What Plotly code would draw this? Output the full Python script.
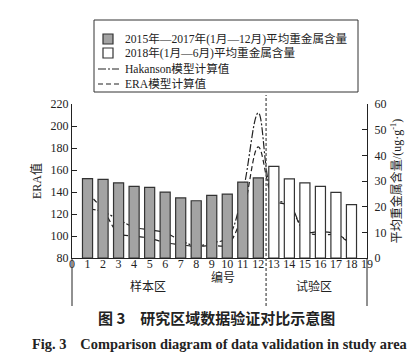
import plotly.graph_objects as go

# ---- data ----
sample_ids = [1, 2, 3, 4, 5, 6, 7, 8, 9, 10, 11, 12]
sample_metal = [30.9, 30.6, 29.3, 27.9, 27.5, 25.7, 23.4, 22.3, 24.4, 24.9, 29.6, 31.2]
test_ids = [13, 14, 15, 16, 17, 18]
test_metal = [35.7, 30.8, 29.3, 27.9, 25.6, 20.8]
model_ids = [1, 2, 3, 4, 5, 6, 7, 8, 9, 10, 11, 12, 13, 14, 15, 16, 17, 18]
hakanson_vals = [125, 122, 115, 108, 105.5, 103, 96, 91, 94, 98, 140, 212, 134, 129, 104, 104, 102, 93]
era_vals = [139, 124, 102.5, 100, 98, 94, 92, 90.6, 91.5, 92, 121, 181, 133, 127, 104, 101, 101, 92.7]
x_ticks = list(range(0, 20))
left_ticks = [80, 100, 120, 140, 160, 180, 200, 220]
right_ticks = [0, 10, 20, 30, 40, 50, 60]
legend_names = ["2015年—2017年(1月—12月)平均重金属含量", "2018年(1月—6月)平均重金属含量",
                "Hakanson模型计算值", "ERA模型计算值"]

SERIF = "Liberation Serif, Times New Roman, Noto Sans CJK SC, serif"
CJK = "Liberation Serif, Noto Sans CJK SC, serif"
INK = "#222222"
BAR_FILL = ["#a3a3a3", "#ffffff"]
DASH_HAK = "8px,2px,2px,2px"
DASH_ERA = "5px,3px"

fig = go.Figure()
fig.add_trace(go.Bar(x=sample_ids, y=sample_metal, yaxis="y2", width=0.65,
                     marker=dict(color=BAR_FILL[0], line=dict(color="#333333", width=1.2)),
                     name=legend_names[0], showlegend=False))
fig.add_trace(go.Bar(x=test_ids, y=test_metal, yaxis="y2", width=0.65,
                     marker=dict(color=BAR_FILL[1], line=dict(color="#333333", width=1.2)),
                     name=legend_names[1], showlegend=False))
fig.add_trace(go.Scatter(x=model_ids, y=hakanson_vals, mode="lines",
                         line=dict(color=INK, width=1.2, dash=DASH_HAK, shape="spline", smoothing=1.0),
                         name=legend_names[2], showlegend=False))
fig.add_trace(go.Scatter(x=model_ids, y=era_vals, mode="lines",
                         line=dict(color=INK, width=1.2, dash=DASH_ERA, shape="spline", smoothing=1.0),
                         name=legend_names[3], showlegend=False))

pl, pr, pt, pb = 64, 359, 96, 250
W, H = 417, 361
ph = pb - pt
pw = pr - pl
def py(pix):
    return (pb - pix) / ph
def px(pix):
    return (pix - pl) / pw

fig.update_layout(
    width=W, height=H,
    margin=dict(l=pl, r=W - pr, t=pt, b=H - pb, pad=0),
    paper_bgcolor="white", plot_bgcolor="white",
    font=dict(family=CJK, size=12, color=INK),
    showlegend=False,
    barmode="overlay",
    xaxis=dict(range=[0, 19], tickvals=x_ticks, ticktext=[str(v) for v in x_ticks],
               showgrid=False, zeroline=False, showline=True, linecolor=INK, linewidth=1,
               ticks="", ticklabelstandoff=-5, tickfont=dict(family=SERIF, size=12, color=INK)),
    yaxis=dict(range=[80, 220], tickvals=left_ticks, showgrid=False, zeroline=False,
               showline=True, linecolor=INK, linewidth=1, ticks="inside", ticklen=5,
               tickcolor=INK, tickfont=dict(family=SERIF, size=12, color=INK),
               title=dict(text="ERA值", font=dict(family=CJK, size=12, color=INK), standoff=6)),
    yaxis2=dict(range=[0, 60], tickvals=right_ticks, overlaying="y", side="right",
                showgrid=False, zeroline=False, showline=True, linecolor=INK, linewidth=1,
                ticks="inside", ticklen=5, tickcolor=INK, ticklabelstandoff=4,
                tickfont=dict(family=SERIF, size=12, color=INK),
                title=dict(text="平均重金属含量/(ug·g<sup>-1</sup>)",
                           font=dict(family=CJK, size=12, color=INK), standoff=7)),
)

ybot = py(298)
# extended axis lines below the plot
fig.add_shape(type="line", xref="paper", yref="paper", x0=0, x1=0, y0=ybot, y1=0,
              line=dict(color=INK, width=1))
fig.add_shape(type="line", xref="paper", yref="paper", x0=1, x1=1, y0=ybot, y1=0,
              line=dict(color=INK, width=1))
# divider between sample and test zones
fig.add_shape(type="line", xref="x", yref="paper", x0=12.5, x1=12.5, y0=ybot, y1=py(87),
              line=dict(color="#555555", width=1.3, dash="3px,2px"))

# ---- manual legend ----
fig.add_shape(type="rect", xref="paper", yref="paper", x0=px(86), x1=px(350), y0=py(84), y1=py(12),
              line=dict(color="#333333", width=1), fillcolor="white")
rows = [31, 45, 61, 76]
for i in range(2):
    fig.add_shape(type="rect", xref="paper", yref="paper", x0=px(95), x1=px(105),
                  y0=py(rows[i] + 5), y1=py(rows[i] - 5),
                  line=dict(color="#333333", width=1.2), fillcolor=BAR_FILL[i])
for i, dsh in zip([2, 3], [DASH_HAK, DASH_ERA]):
    fig.add_shape(type="line", xref="paper", yref="paper", x0=px(90), x1=px(111),
                  y0=py(rows[i]), y1=py(rows[i]), line=dict(color=INK, width=1.2, dash=dsh))
for i in range(4):
    fig.add_annotation(x=px(115), y=py(rows[i]), xref="paper", yref="paper", xanchor="left",
                       yanchor="middle", text=legend_names[i], showarrow=False,
                       font=dict(family=CJK, size=11.6, color=INK))

fig.add_annotation(x=9.7, y=py(279), xref="x", yref="paper", text="编号", showarrow=False,
                   font=dict(family=CJK, size=12, color=INK))
fig.add_annotation(x=4.9, y=py(288), xref="x", yref="paper", text="样本区", showarrow=False,
                   font=dict(family=CJK, size=12, color=INK))
fig.add_annotation(x=15.6, y=py(288), xref="x", yref="paper", text="试验区", showarrow=False,
                   font=dict(family=CJK, size=12, color=INK))
fig.add_annotation(x=px(208), y=py(322), xref="paper", yref="paper",
                   text="<b>图 3　研究区域数据验证对比示意图</b>", showarrow=False,
                   font=dict(family="Noto Sans CJK SC", size=15, color=INK))
fig.add_annotation(x=px(211), y=py(346), xref="paper", yref="paper",
                   text="<b>Fig. 3　Comparison diagram of data validation in study area</b>",
                   showarrow=False, font=dict(family="Liberation Serif", size=14.4, color=INK))

fig.write_html("out.html")
